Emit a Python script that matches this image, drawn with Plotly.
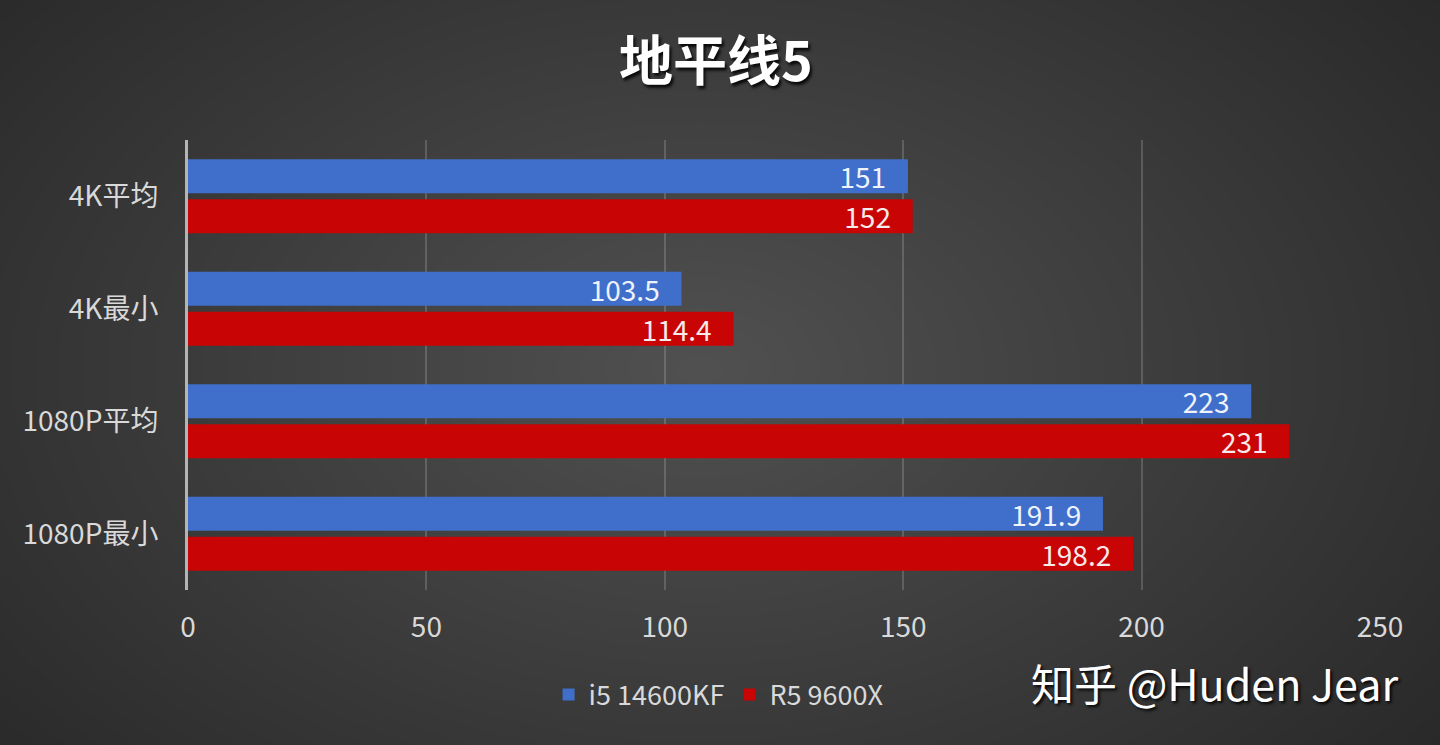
import plotly.graph_objects as go

categories = ["4K平均", "4K最小", "1080P平均", "1080P最小"]
series_names = ["i5 14600KF", "R5 9600X"]
i5_values = [151, 103.5, 223, 191.9]
r5_values = [152, 114.4, 231, 198.2]
x_ticks = [0, 50, 100, 150, 200, 250]
title_text = "地平线5"
watermark = "知乎 @Huden Jear"

W, H = 1440, 745
ML, MR, MT, MB = 188, 60, 140, 155
PW, PH = W - ML - MR, H - MT - MB

FONT = "Noto Sans CJK SC, Noto Sans, sans-serif"
LABEL_COLOR = "#d9d9d9"

fig = go.Figure()
pad = "\u00a0\u00a0\u00a0"
fig.add_trace(go.Bar(
    y=categories, x=i5_values, name=series_names[0], orientation="h",
    marker=dict(color="#3f6fca", line=dict(width=0)),
    text=[f"{v:g}{pad}" for v in i5_values], textposition="inside",
    insidetextanchor="end", constraintext="none",
    textfont=dict(family=FONT, size=28, color="#eef2fa"),
))
fig.add_trace(go.Bar(
    y=categories, x=r5_values, name=series_names[1], orientation="h",
    marker=dict(color="#c80404", line=dict(width=0)),
    text=[f"{v:g}{pad}" for v in r5_values], textposition="inside",
    insidetextanchor="end", constraintext="none",
    textfont=dict(family=FONT, size=28, color="#f6eaea"),
))

def px2paper_x(px):
    return (px - ML) / PW

def px2paper_y(py):
    return (H - MB - py) / PH

# radial background glow
shapes = []
cx, cy = 700, 370
N = 40
for k in range(N, 0, -1):
    rx = 950 * k / N
    ry = 620 * k / N
    shapes.append(dict(
        type="circle", xref="paper", yref="paper",
        x0=px2paper_x(cx - rx), x1=px2paper_x(cx + rx),
        y0=px2paper_y(cy + ry), y1=px2paper_y(cy - ry),
        fillcolor="rgba(255,255,255,0.0062)", line=dict(width=0), layer="below",
    ))

fig.update_layout(
    width=W, height=H,
    margin=dict(l=ML, r=MR, t=MT, b=MB, autoexpand=False),
    paper_bgcolor="#282828", plot_bgcolor="rgba(0,0,0,0)",
    barmode="group", bargap=0.29, bargroupgap=0.15,
    shapes=shapes,
    font=dict(family=FONT, color=LABEL_COLOR),
    showlegend=True,
    legend=dict(
        orientation="h", xref="container", yref="container",
        x=0.499, y=1 - 695 / H, xanchor="center", yanchor="middle",
        font=dict(family=FONT, size=27, color=LABEL_COLOR),
        bgcolor="rgba(0,0,0,0)", traceorder="normal",
    ),
    title=dict(
        text=title_text, xref="container", yref="container",
        x=716 / W, y=1 - 62 / H, xanchor="center", yanchor="middle",
        font=dict(family=FONT, size=54, color="#ffffff", weight="bold",
                  shadow="2px 3px 3px rgba(0,0,0,0.85)"),
    ),
    xaxis=dict(
        range=[0, 250], tickvals=x_ticks, ticktext=[str(t) for t in x_ticks],
        showgrid=True, gridcolor="rgba(255,255,255,0.17)", gridwidth=1.5,
        zeroline=False, showline=False, ticks="",
        ticklabelstandoff=18,
        tickfont=dict(family=FONT, size=28, color=LABEL_COLOR),
        fixedrange=True,
    ),
    yaxis=dict(
        autorange="reversed", showgrid=False, zeroline=False,
        showline=True, linecolor="#b4b4b4", linewidth=3, ticks="",
        ticklabelstandoff=21,
        tickfont=dict(family=FONT, size=28, color=LABEL_COLOR),
        fixedrange=True,
    ),
    annotations=[dict(
        text=watermark, xref="paper", yref="paper",
        x=px2paper_x(1400), y=px2paper_y(682), xanchor="right", yanchor="middle",
        showarrow=False,
        font=dict(family=FONT, size=43, color="#ffffff",
                  shadow="2px 2px 3px rgba(0,0,0,0.9)"),
    )],
)

fig.write_html(
    "out.html",
    config={"displayModeBar": False},
    post_script="document.body.style.margin='0';document.body.style.overflow='hidden';",
)
